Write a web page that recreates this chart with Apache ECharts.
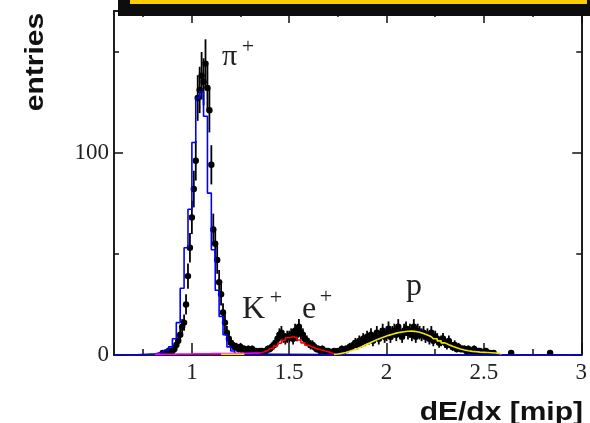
<!DOCTYPE html>
<html><head><meta charset="utf-8">
<script src="https://cdn.jsdelivr.net/npm/echarts@6/dist/echarts.min.js"></script>
<style>html,body{margin:0;padding:0;background:#fff}#c{width:590px;height:423px}</style>
</head><body><div id="c"></div>
<script>
// ---- axis ticks ----
const xMajorTicks = [1, 1.5, 2, 2.5, 3];
const xMinorTicks = [0.75, 1.25, 1.75, 2.25, 2.75];
const yMajorTicks = [0, 100];
const yMinorTicks = [50, 150];

// ---- measured histogram (bin centres start at 0.80, width 0.01) ----
const dataStart = 0.80, dataBin = 0.01;
const counts = [
  0,0,0,0,0,1,0,1,2,2,
  2,3,5,7,10,14,16,25,39,53,
  68,82,96,127,131,138,135,144,132,121,
  94,62,55,47,36,30,21,16,11,8,
  6,5,4,4,3,4,3,3,2,3,
  2,3,2,2,1,2,2,1,2,3,
  3,4,5,6,8,10,11,9,8,9,
  9,10,8,12,10,14,11,10,8,7,
  6,5,5,4,3,3,2,3,2,2,
  2,1,1,2,1,2,2,3,2,3,
  3,4,4,5,6,5,7,6,8,7,
  9,8,10,7,9,11,8,10,12,9,
  10,13,9,11,12,10,14,11,9,12,
  13,11,12,10,14,9,12,11,10,11,
  9,10,8,11,7,9,8,6,7,8,
  6,5,7,5,4,5,3,4,3,3,
  3,2,3,2,2,3,1,2,2,1,
  1,2,1,1,0,1,0,0,0,0,
  0,0,0,0,1,0,0,0,0,0,
  0,0,0,0,0,0,0,0,0,0,
  0,0,0,0,1,0
];

// ---- fit histograms (bin width 0.02) ----
const fitBin = 0.02;
const pionStart = 0.79;
const pionFit = [0.5,0.5,1,1.5,2.5,4,8,16,33,53,72,105,127,130,118,80,52,32,19,10,4,2,0.5,0];
const kaonStart = 0.81;
const kaonFit = [0.3,0.3,0.3,0.4,0.4,0.4,0.5,0.5,0.5,0.5,0.6,0.6,0.6,0.6,0.6,0.7,0.7,0.7,0.7,0.7,0.8,0.8,0.8,0.9,0.9,1.0,1.0,1.0];
const electronStart = 1.35;
const electronFit = [1,1.5,2.2,3.2,4.4,5.8,7.3,8.5,9.0,8.6,7.4,6.0,4.8,3.9,3.2,2.6,2.1,1.6,1.0,0.5];
const protonLowStart = 1.15;
const protonLowFit = [0.4,0.4,0.4,0.4,0.4,0.4,0.4];
const protonStart = 1.73;
const protonFit = [0.3,0.5,0.8,1.2,1.8,2.5,3.2,4.0,4.9,5.8,6.7,7.5,8.3,9.0,9.7,10.3,10.8,11.2,11.5,11.7,11.8,11.6,11.2,10.6,9.9,9.0,8.0,7.0,6.0,5.1,4.3,3.6,3.0,2.5,2.1,1.8,1.6,1.4,1.3,1.2,1.1,1.0,0.8,0.4];

const xMin = 0.6, xMax = 3.0, yMin = 0, yMax = 170;

function toPairs(start, step, vals){ return vals.map((v,i)=>[+(start+i*step).toFixed(4), v]); }

const pointData = [];
counts.forEach((c,i)=>{ if(c>0) pointData.push([+(dataStart+i*dataBin).toFixed(4), c, Math.sqrt(c)]); });

const pionData = [[xMin,0]].concat(toPairs(pionStart, fitBin, pionFit)).concat([[xMax,0]]);

const serif = '"Liberation Serif", "Times New Roman", serif';
const sans = '"Liberation Sans", Arial, sans-serif';

function renderItem(params, api){
  const x = api.value(0), y = api.value(1), e = api.value(2);
  const p = api.coord([x,y]);
  const t = api.coord([x, y+e]);
  const b = api.coord([x, Math.max(0, y-e)]);
  return {type:'group', children:[
    {type:'line', shape:{x1:p[0],y1:t[1],x2:p[0],y2:b[1]}, style:{stroke:'#000', lineWidth:1.8}},
    {type:'circle', shape:{cx:p[0],cy:p[1],r:3.2}, style:{fill:'#000'}}
  ]};
}

function xAx(pos, ticks, len, labels){
  return {type:'value', min:xMin, max:xMax, position:pos, splitLine:{show:false},
    axisLine:{show:true, onZero:false, lineStyle:{color:'#111', width:1.5}},
    axisTick:{show:true, inside:true, length:len, customValues:ticks, lineStyle:{color:'#111', width:1.5}},
    axisLabel:labels ? {show:true, customValues:ticks, margin:6, color:'#222', fontFamily:serif, fontSize:23,
      formatter:(v)=>String(+v.toFixed(2))} : {show:false}};
}
function yAx(pos, ticks, len, labels){
  return {type:'value', min:yMin, max:yMax, position:pos, splitLine:{show:false},
    axisLine:{show:true, onZero:false, lineStyle:{color:'#111', width:1.5}},
    axisTick:{show:true, inside:true, length:len, customValues:ticks, lineStyle:{color:'#111', width:1.5}},
    axisLabel:labels ? {show:true, customValues:ticks, margin:5, color:'#222', fontFamily:serif, fontSize:23} : {show:false}};
}

function lineSeries(data, color, z){
  return {type:'line', data:data, step:'middle', showSymbol:false, symbol:'none', z:z,
    lineStyle:{color:color, width:1.6}, itemStyle:{color:color}, animation:false, silent:true};
}

const chart = echarts.init(document.getElementById('c'), null, {renderer:'canvas'});
chart.setOption({
  animation:false,
  backgroundColor:'#fff',
  grid:{left:114, right:6, top:11, bottom:68},
  xAxis:[xAx('bottom', xMajorTicks, 12, true), xAx('bottom', xMinorTicks, 6, false),
         xAx('top', xMajorTicks, 12, false), xAx('top', xMinorTicks, 6, false)],
  yAxis:[yAx('left', yMajorTicks, 9, true), yAx('left', yMinorTicks, 5, false),
         yAx('right', yMajorTicks, 9, false), yAx('right', yMinorTicks, 5, false)],
  series:[
    {type:'custom', renderItem:renderItem, data:pointData, z:2, clip:true, silent:true},
    lineSeries(pionData, '#0000ff', 3),
    lineSeries(toPairs(kaonStart, fitBin, kaonFit), '#ff00ff', 4),
    lineSeries(toPairs(protonLowStart, fitBin, protonLowFit), '#f2e600', 5),
    lineSeries(toPairs(electronStart, fitBin, electronFit), '#ff0000', 5),
    lineSeries(toPairs(protonStart, fitBin, protonFit), '#f2e600', 5)
  ],
  graphic:[
    {type:'rect', shape:{x:118, y:-5, width:480, height:21}, style:{fill:'#0d0d0d'}, z:100},
    {type:'rect', shape:{x:130, y:-5, width:457, height:9}, style:{fill:'#fccb00'}, z:101},
    {type:'text', x:36, y:62, rotation:Math.PI/2, scaleX:1.2,
      style:{text:'entries', font:'bold 25px '+sans, fill:'#111', align:'center', verticalAlign:'middle'}, z:100},
    {type:'text', x:583, y:413, scaleX:1.2,
      style:{text:'dE/dx [mip]', font:'bold 25px '+sans, fill:'#111', align:'right', verticalAlign:'middle'}, z:100},
    {type:'text', x:222, y:57, style:{text:'π', font:'30px '+serif, fill:'#222', align:'left', verticalAlign:'middle'}, z:100},
    {type:'text', x:248, y:47, style:{text:'+', font:'22px '+serif, fill:'#222', align:'center', verticalAlign:'middle'}, z:100},
    {type:'text', x:242, y:310, style:{text:'K', font:'32px '+serif, fill:'#222', align:'left', verticalAlign:'middle'}, z:100},
    {type:'text', x:276, y:298, style:{text:'+', font:'22px '+serif, fill:'#222', align:'center', verticalAlign:'middle'}, z:100},
    {type:'text', x:302, y:310, style:{text:'e', font:'32px '+serif, fill:'#222', align:'left', verticalAlign:'middle'}, z:100},
    {type:'text', x:326, y:297, style:{text:'+', font:'22px '+serif, fill:'#222', align:'center', verticalAlign:'middle'}, z:100},
    {type:'text', x:406, y:287, style:{text:'p', font:'32px '+serif, fill:'#222', align:'left', verticalAlign:'middle'}, z:100}
  ]
});
</script>
</body></html>
